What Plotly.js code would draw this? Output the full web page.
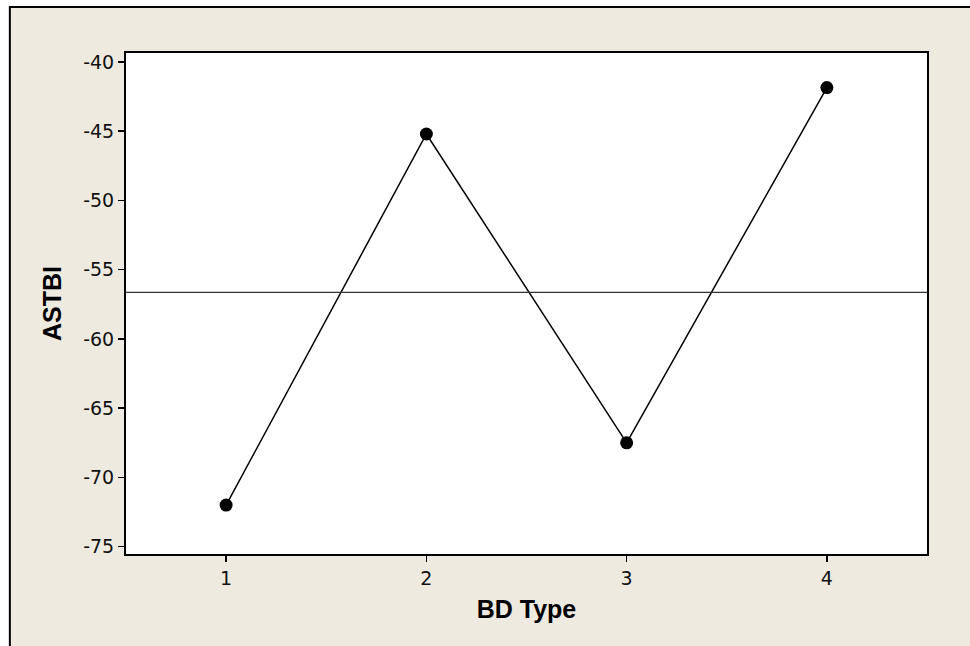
<!DOCTYPE html>
<html>
<head>
<meta charset="utf-8">
<script src="https://cdn.plot.ly/plotly-3.0.1.min.js"></script>
<style>html,body{margin:0;padding:0;background:#fff;}#chart{width:970px;height:646px;}</style>
</head>
<body>
<div id="chart"></div>
<script>
const bdType = [1, 2, 3, 4];
const astbi = [-72.0, -45.2, -67.5, -41.85];
const yTicks = [-75, -70, -65, -60, -55, -50, -45, -40];
const meanVal = astbi.reduce((a, b) => a + b, 0) / astbi.length;

const trace = {
  x: bdType, y: astbi, type: 'scatter', mode: 'lines+markers',
  line: {color: '#000', width: 1.5},
  marker: {color: '#000', size: 13},
  cliponaxis: false, hoverinfo: 'none'
};

const layout = {
  width: 970, height: 646,
  margin: {l: 126, r: 43, t: 53, b: 92},
  paper_bgcolor: '#ffffff',
  plot_bgcolor: '#ffffff',
  showlegend: false,
  xaxis: {
    range: [0.5, 4.5], tickvals: bdType, ticktext: bdType.map(String),
    ticks: 'outside', ticklen: 6, tickwidth: 1.5, tickcolor: '#000',
    showline: true, linecolor: '#000', linewidth: 2, mirror: true,
    showgrid: false, zeroline: false,
    tickfont: {family: 'DejaVu Sans', size: 19, color: '#111'},
    title: {text: 'BD Type', font: {family: 'Liberation Sans', size: 25, color: '#000', weight: 'bold'}, standoff: 13}
  },
  yaxis: {
    range: [-75.53, -39.35], tickvals: yTicks, ticktext: yTicks.map(String),
    ticks: 'outside', ticklen: 6, tickwidth: 1.5, tickcolor: '#000',
    showline: true, linecolor: '#000', linewidth: 2, mirror: true,
    showgrid: false, zeroline: false,
    tickfont: {family: 'DejaVu Sans', size: 19, color: '#111'},
    title: {text: 'ASTBI', font: {family: 'Liberation Sans', size: 25, color: '#000', weight: 'bold'}, standoff: 14}
  },
  shapes: [
    {type: 'rect', xref: 'paper', yref: 'paper', layer: 'below',
     x0: -0.145, x1: 1.3, y0: -0.3, y1: 1.092,
     fillcolor: '#eeeae0', line: {color: '#000', width: 2}},
    {type: 'rect', xref: 'paper', yref: 'paper', layer: 'below',
     x0: 0, x1: 1, y0: 0, y1: 1,
     fillcolor: '#ffffff', line: {width: 0}},
    {type: 'line', xref: 'paper', yref: 'y', x0: 0, x1: 1, y0: meanVal, y1: meanVal,
     line: {color: '#333', width: 1.3}}
  ]
};

Plotly.newPlot('chart', [trace], layout, {displayModeBar: false, staticPlot: true});
</script>
</body>
</html>
